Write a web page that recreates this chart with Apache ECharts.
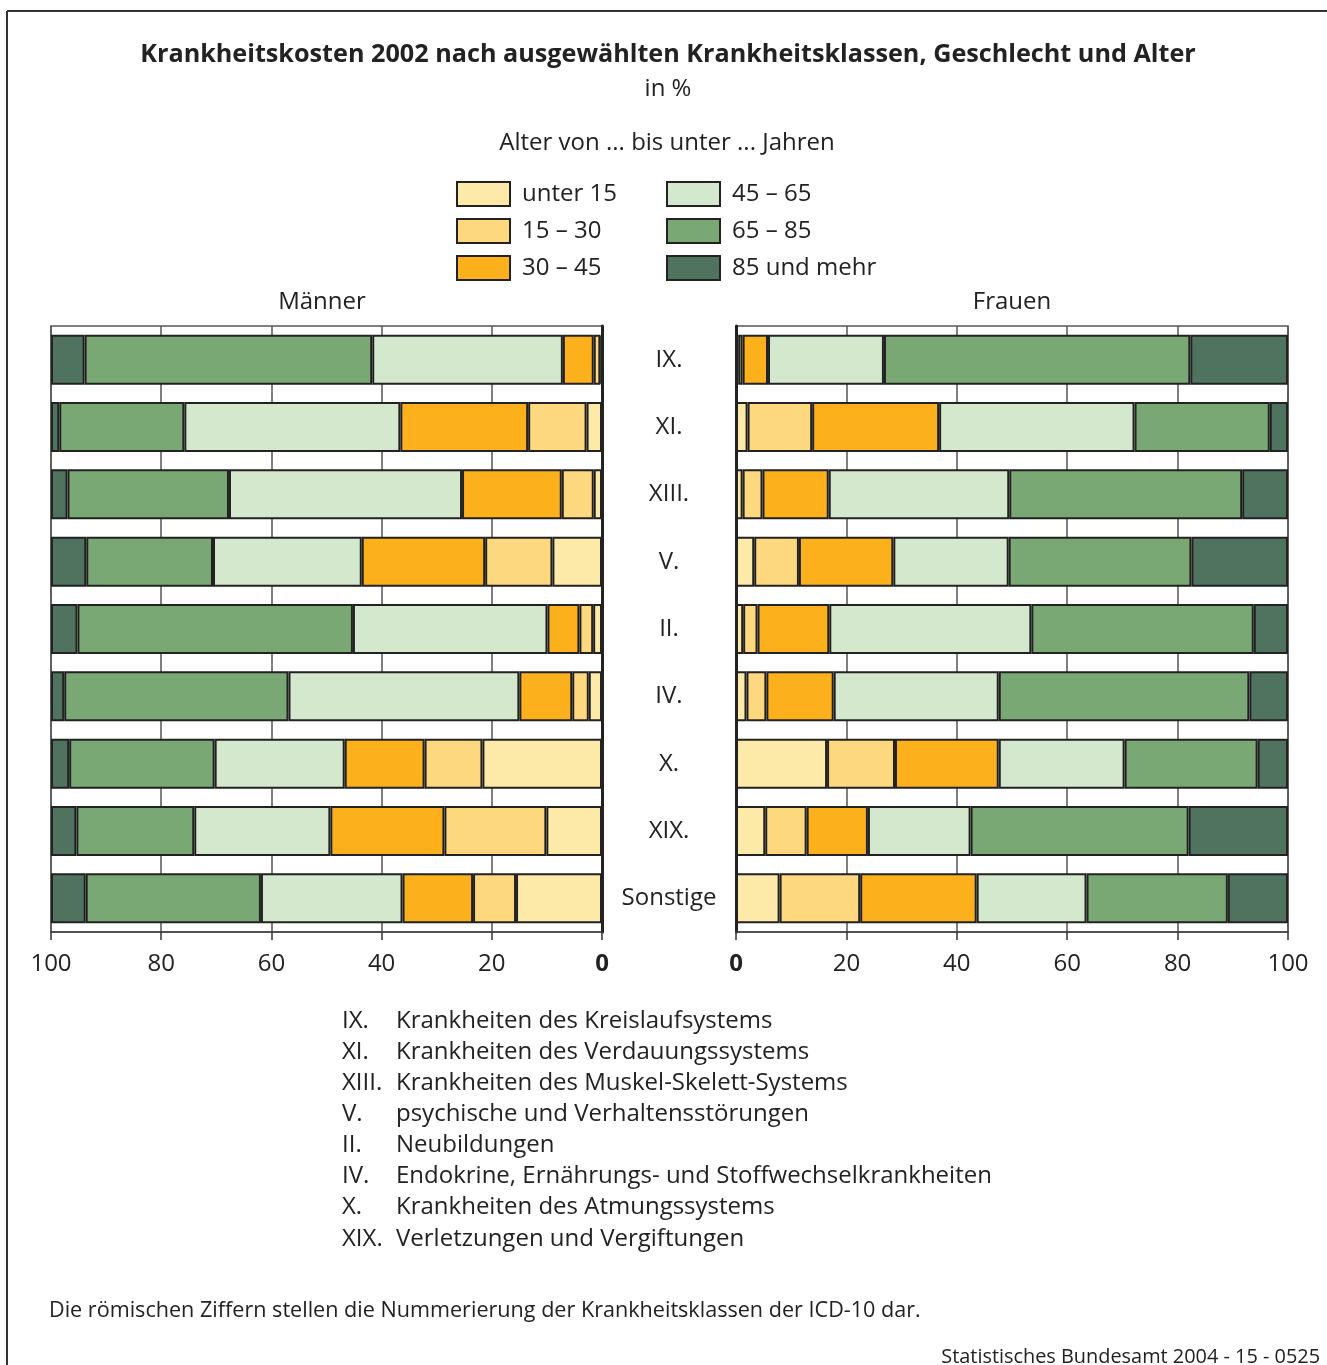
<!DOCTYPE html>
<html>
<head>
<meta charset="utf-8">
<script src="https://cdn.jsdelivr.net/npm/echarts@6/dist/echarts.min.js"></script>
<style>
html,body{margin:0;padding:0;background:#fff;}
#chart{width:1327px;height:1365px;}
</style>
</head>
<body>
<div id="chart"></div>
<script>
// ---- data ----
const categories = ['IX.', 'XI.', 'XIII.', 'V.', 'II.', 'IV.', 'X.', 'XIX.', 'Sonstige'];
const ageGroups = ['unter 15', '15 – 30', '30 – 45', '45 – 65', '65 – 85', '85 und mehr'];
const xTicks = [0, 20, 40, 60, 80, 100];

// Männer (in %)
const maennerUnter15 = [0.3, 2.8, 1.5, 9.0, 1.6, 2.4, 21.7, 10.1, 15.6];
const maenner15bis30 = [1.2, 10.6, 5.8, 12.2, 2.5, 3.0, 10.5, 18.5, 7.8];
const maenner30bis45 = [5.6, 23.2, 18.1, 22.4, 5.8, 9.6, 14.5, 20.7, 12.8];
const maenner45bis65 = [34.6, 39.2, 42.3, 27.0, 35.3, 41.9, 23.6, 24.7, 25.7];
const maenner65bis85 = [52.2, 22.7, 29.3, 23.0, 50.0, 40.7, 26.4, 21.4, 31.8];
const maenner85plus  = [6.1, 1.5, 3.0, 6.4, 4.8, 2.4, 3.3, 4.6, 6.3];

// Frauen (in %)
const frauenUnter15 = [0.4, 2.1, 1.2, 3.3, 1.3, 1.9, 16.5, 5.3, 7.9];
const frauen15bis30 = [0.8, 11.7, 3.6, 8.1, 2.6, 3.6, 12.3, 7.5, 14.6];
const frauen30bis45 = [4.6, 23.0, 12.0, 17.1, 13.0, 12.2, 18.8, 11.1, 21.1];
const frauen45bis65 = [21.0, 35.4, 32.7, 20.9, 36.6, 29.9, 22.8, 18.6, 19.9];
const frauen65bis85 = [55.5, 24.5, 42.2, 33.1, 40.3, 45.4, 24.1, 39.5, 25.6];
const frauen85plus  = [17.7, 3.3, 8.3, 17.5, 6.2, 7.0, 5.5, 18.0, 10.9];

const footnoteCodes = ['IX.', 'XI.', 'XIII.', 'V.', 'II.', 'IV.', 'X.', 'XIX.'];
const footnoteTexts = [
  'Krankheiten des Kreislaufsystems',
  'Krankheiten des Verdauungssystems',
  'Krankheiten des Muskel-Skelett-Systems',
  'psychische und Verhaltensstörungen',
  'Neubildungen',
  'Endokrine, Ernährungs- und Stoffwechselkrankheiten',
  'Krankheiten des Atmungssystems',
  'Verletzungen und Vergiftungen'
];

// ---- styles ----
const FONT = '"Open Sans"';
const colors = ['#FEEAA8', '#FED87E', '#FBB01C', '#D3E8CC', '#79A874', '#4F735E'];
const maennerData = [maennerUnter15, maenner15bis30, maenner30bis45, maenner45bis65, maenner65bis85, maenner85plus];
const frauenData = [frauenUnter15, frauen15bis30, frauen30bis45, frauen45bis65, frauen65bis85, frauen85plus];

const chart = echarts.init(document.getElementById('chart'));

function xAxisDef(gridIndex, inverse) {
  return {
    type: 'value', gridIndex: gridIndex, min: 0, max: 100, interval: 20, inverse: inverse,
    position: 'bottom',
    axisLine: {show: true, lineStyle: {color: '#444', width: 1.5}},
    axisTick: {show: true, length: 8, lineStyle: {color: '#333', width: 1.5}},
    splitLine: {show: true, lineStyle: {color: '#555', width: 1.5}},
    axisLabel: {
      margin: 20, color: '#222', fontSize: 24, fontFamily: 'Open Sans',
      formatter: function (v) { return v === 0 ? '{b|0}' : String(v); },
      rich: {b: {fontWeight: 'bold', fontSize: 24, fontFamily: 'Open Sans', color: '#222'}}
    }
  };
}

const series = [];
ageGroups.forEach(function (name, i) {
  series.push({
    name: name, type: 'bar', stack: 'm', xAxisIndex: 0, yAxisIndex: 0,
    barWidth: 50, data: maennerData[i],
    itemStyle: {color: colors[i], borderColor: '#222', borderWidth: 2},
    emphasis: {disabled: true}
  });
});
ageGroups.forEach(function (name, i) {
  series.push({
    name: name, type: 'bar', stack: 'f', xAxisIndex: 1, yAxisIndex: 1,
    barWidth: 50, data: frauenData[i],
    itemStyle: {color: colors[i], borderColor: '#222', borderWidth: 2},
    emphasis: {disabled: true}
  });
});

const graphics = [
  {type: 'line', shape: {x1: 7, y1: 11, x2: 1327, y2: 11}, style: {stroke: '#333', lineWidth: 2}},
  {type: 'line', shape: {x1: 7, y1: 11, x2: 7, y2: 1365}, style: {stroke: '#333', lineWidth: 2}},
  {type: 'text', x: 668, y: 55, style: {text: 'Krankheitskosten 2002 nach ausgewählten Krankheitsklassen, Geschlecht und Alter', font: 'bold 25.2px ' + FONT, fill: '#222', textAlign: 'center', textVerticalAlign: 'middle'}},
  {type: 'text', x: 668, y: 89, style: {text: 'in %', font: '24px ' + FONT, fill: '#222', textAlign: 'center', textVerticalAlign: 'middle'}},
  {type: 'text', x: 667, y: 143, style: {text: 'Alter von ... bis unter ... Jahren', font: '24px ' + FONT, fill: '#222', textAlign: 'center', textVerticalAlign: 'middle'}},
  {type: 'text', x: 322, y: 302, style: {text: 'Männer', font: '24px ' + FONT, fill: '#222', textAlign: 'center', textVerticalAlign: 'middle'}},
  {type: 'text', x: 1012, y: 302, style: {text: 'Frauen', font: '24px ' + FONT, fill: '#222', textAlign: 'center', textVerticalAlign: 'middle'}},
  {type: 'text', x: 49, y: 1311, style: {text: 'Die römischen Ziffern stellen die Nummerierung der Krankheitsklassen der ICD-10 dar.', font: '21.6px ' + FONT, fill: '#222', textAlign: 'left', textVerticalAlign: 'middle'}},
  {type: 'text', x: 1320, y: 1357, style: {text: 'Statistisches Bundesamt 2004 - 15 - 0525', font: '19.9px ' + FONT, fill: '#222', textAlign: 'right', textVerticalAlign: 'middle'}}
];
footnoteCodes.forEach(function (c, i) {
  graphics.push({type: 'text', x: 342, y: 1021 + i * 31.1, style: {text: c, font: '24px ' + FONT, fill: '#222', textAlign: 'left', textVerticalAlign: 'middle'}});
  graphics.push({type: 'text', x: 396, y: 1021 + i * 31.1, style: {text: footnoteTexts[i], font: '24px ' + FONT, fill: '#222', textAlign: 'left', textVerticalAlign: 'middle'}});
});

const legendCommon = {
  orient: 'vertical', top: 181, padding: 0, itemWidth: 53, itemHeight: 24, itemGap: 11,
  icon: 'rect', selectedMode: false,
  textStyle: {fontSize: 24, fontFamily: 'Open Sans', color: '#222', lineHeight: 24, height: 24, padding: [2, 0, 0, 7]}
};

chart.setOption({
  animation: false,
  backgroundColor: '#fff',
  textStyle: {fontFamily: 'Open Sans'},
  legend: [
    Object.assign({}, legendCommon, {left: 456, data: ageGroups.slice(0, 3)}),
    Object.assign({}, legendCommon, {left: 666, data: ageGroups.slice(3)})
  ],
  grid: [
    {left: 51, top: 326, width: 551, height: 606, show: true, borderColor: '#555', borderWidth: 1.5, backgroundColor: 'transparent'},
    {left: 736, top: 326, width: 552, height: 606, show: true, borderColor: '#555', borderWidth: 1.5, backgroundColor: 'transparent'}
  ],
  xAxis: [xAxisDef(0, true), xAxisDef(1, false)],
  yAxis: [
    {
      type: 'category', gridIndex: 0, data: categories, inverse: true, position: 'right',
      axisLine: {show: true, lineStyle: {color: '#222', width: 3}},
      axisTick: {show: false}, axisLabel: {show: false}, splitLine: {show: false}
    },
    {
      type: 'category', gridIndex: 1, data: categories, inverse: true, position: 'left',
      axisLine: {show: true, lineStyle: {color: '#222', width: 3}},
      axisTick: {show: false}, splitLine: {show: false},
      axisLabel: {show: true, align: 'center', margin: 67, fontSize: 24, fontFamily: 'Open Sans', color: '#222', padding: [6, 0, 0, 0]}
    }
  ],
  series: series,
  graphic: graphics
});
</script>
</body>
</html>
